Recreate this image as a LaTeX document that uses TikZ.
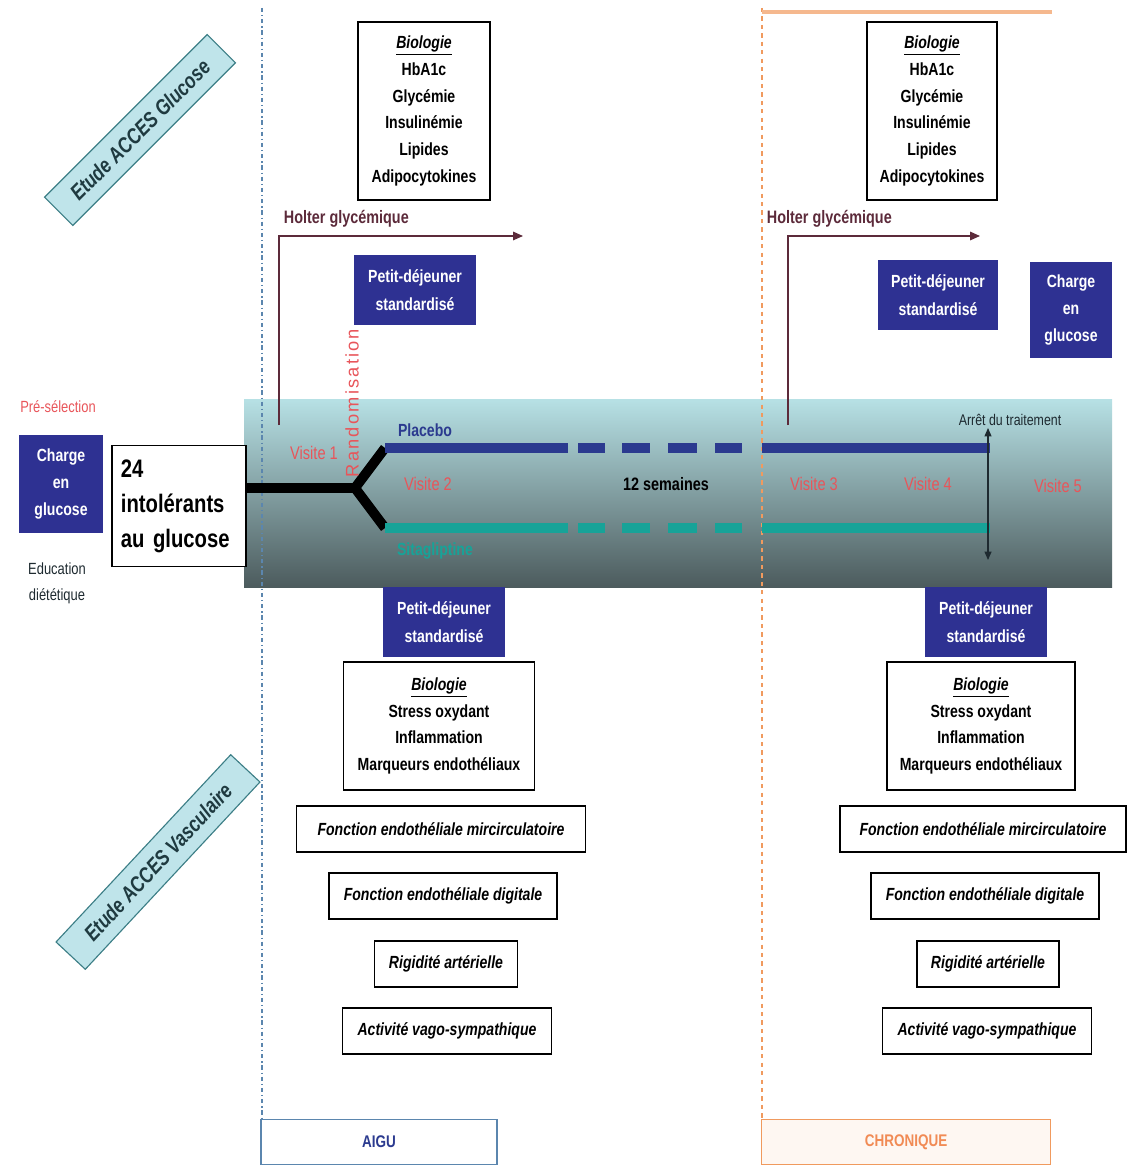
\documentclass[tikz,border=0pt]{standalone}
\usepackage{fontspec}
\setmainfont{Liberation Sans}[FakeStretch=0.8]
\newfontfamily\spacedFont{Liberation Sans}[LetterSpace=12]
\usetikzlibrary{arrows.meta,positioning}
\definecolor{AcBlue}{HTML}{2E3192}
\definecolor{AcPlacebo}{HTML}{2B3A8F}
\definecolor{AcTeal}{HTML}{17A398}
\definecolor{AcRed}{HTML}{E8555A}
\definecolor{AcOrange}{HTML}{F09A5E}
\definecolor{AcLine}{HTML}{5B86AE}
\definecolor{AcHolter}{HTML}{5C2A3A}
\definecolor{AcTagFill}{HTML}{BFE4EA}
\definecolor{AcTagLine}{HTML}{3C7E86}
\definecolor{AcTagText}{HTML}{1F3A40}
\definecolor{AcBandTop}{HTML}{B7E1E5}
\definecolor{AcBandMid}{HTML}{97B9BC}
\definecolor{AcBandBot}{HTML}{4C5B5D}
\definecolor{AcDark}{HTML}{1E2A30}

\begin{document}
\begin{tikzpicture}[x=0.025cm,y=-0.025cm,
  bioBox/.style={draw=black,line width=0.9pt,fill=white,align=center,inner sep=0pt,font=\bfseries\fontsize{12.5}{19}\selectfont},
  blueBox/.style={fill=AcBlue,text=white,align=center,inner sep=0pt,font=\bfseries\fontsize{12.5}{19.5}\selectfont},
  testBox/.style={draw=black,line width=0.9pt,fill=white,inner sep=0pt,minimum height=1.15cm,font=\bfseries\itshape\fontsize{12.5}{14}\selectfont},
  phaseBox/.style={line width=1pt,inner sep=0pt,minimum height=1.125cm,font=\bfseries\fontsize{12}{14}\selectfont},
  studyTag/.style={draw=AcTagLine,fill=AcTagFill,line width=0.8pt,rotate=45,minimum height=1cm,inner sep=0pt,text=AcTagText,font=\bfseries\itshape\fontsize{15.5}{17}\selectfont},
  visitLabel/.style={text=AcRed,font=\fontsize{13}{15}\selectfont},
  armLine/.style={line width=7pt},
  holterLine/.style={draw=AcHolter,line width=1pt,-{Triangle[length=7pt,width=6pt]}}]
\path[use as bounding box] (0,0) rectangle (1128,1168);

% bande de traitement
\shade[top color=AcBandTop,middle color=AcBandMid,bottom color=AcBandBot] (244,399) rectangle (1112,587);

% separations aigu / chronique
\draw[AcLine,line width=1pt,dash dot] (262,8) -- (262,1120);
\draw[AcOrange,line width=1pt,dashed] (762,8) -- (762,1120);
\draw[AcOrange!70,line width=2.5pt] (762,12) -- (1052,12);

% etiquettes d'etude
\node[studyTag,minimum width=5.75cm] (tagGlucose) at (140,130) {Etude ACCES Glucose};
\node[studyTag,minimum width=6.4cm,rotate=2] (tagVasc) at (158,862) {Etude ACCES Vasculaire};

% bilans glucose
\node[bioBox,minimum width=3.3cm,minimum height=4.45cm] (bioGluA) at (424,111) {\underline{\itshape Biologie}\\HbA1c\\Glycémie\\Insulinémie\\Lipides\\Adipocytokines};
\node[bioBox,minimum width=3.25cm,minimum height=4.45cm] (bioGluC) at (932,111) {\underline{\itshape Biologie}\\HbA1c\\Glycémie\\Insulinémie\\Lipides\\Adipocytokines};

% holter glycemique
\node[anchor=west,text=AcHolter,font=\bfseries\fontsize{12.8}{14}\selectfont] (holterA) at (279,219) {Holter glycémique};
\node[anchor=west,text=AcHolter,font=\bfseries\fontsize{12.8}{14}\selectfont] (holterC) at (762,219) {Holter glycémique};
\coordinate (holterAstart) at (279,425);
\coordinate (holterAend) at (523,236);
\coordinate (holterCstart) at (788,425);
\coordinate (holterCend) at (980,236);
\draw[holterLine] (holterAstart) |- (holterAend);
\draw[holterLine] (holterCstart) |- (holterCend);

% epreuves
\node[blueBox,minimum width=3.05cm,minimum height=1.75cm] (petitGluA) at (415,290) {Petit-déjeuner\\standardisé};
\node[blueBox,minimum width=3.0cm,minimum height=1.75cm] (petitGluC) at (938,295) {Petit-déjeuner\\standardisé};
\node[blueBox,minimum width=2.05cm,minimum height=2.4cm] (chargeC) at (1071,310) {Charge\\en\\glucose};

% pre-selection
\node[text=AcRed,font=\fontsize{11.5}{13}\selectfont] (preSel) at (58,407) {Pré-sélection};
\node[blueBox,minimum width=2.1cm,minimum height=2.425cm] (chargeSel) at (61,484) {Charge\\en\\glucose};
\node[align=center,text=AcDark,font=\fontsize{11.5}{18.5}\selectfont] (educ) at (57,583) {Education\\diététique};
\node[draw,line width=0.9pt,fill=white,minimum width=3.35cm,minimum height=3.025cm,align=left,text width=2.9cm,inner sep=0pt,font=\bfseries\fontsize{18}{25}\selectfont] (patients) at (179,506) {24\\intolérants\\au glucose};

% randomisation et bras
\coordinate (fork) at (355,488);
\coordinate (placeboStart) at (385,448);
\coordinate (activeStart) at (385,528);
\draw[armLine,black] (patients.east |- fork) -- (fork);
\draw[armLine,black] (placeboStart) -- (fork) -- (activeStart);
\foreach \xa/\xb in {385/568,578/605,622/650,668/697,715/742,762/990} {
  \draw[armLine,AcPlacebo] (\xa,448) -- (\xb,448);
  \draw[armLine,AcTeal] (\xa,528) -- (\xb,528);
}
\node[rotate=90,text=AcRed,font=\spacedFont\fontsize{13}{15}\selectfont] (rando) at (352,403) {Randomisation};
\node[text=AcPlacebo,font=\bfseries\fontsize{12.5}{14}\selectfont] (placebo) at (425,430) {Placebo};
\node[text=AcTeal,font=\bfseries\fontsize{12.5}{14}\selectfont] (active) at (435,551) {Sitagliptine};

% visites
\node[visitLabel] (visit1) at (314,453) {Visite 1};
\node[visitLabel] (visit2) at (428,484) {Visite 2};
\node[font=\bfseries\fontsize{12.8}{14}\selectfont] (duree) at (666,484) {12 semaines};
\node[visitLabel] (visit3) at (814,484) {Visite 3};
\node[visitLabel] (visit4) at (928,484) {Visite 4};
\node[visitLabel] (visit5) at (1058,486) {Visite 5};

% arret du traitement
\node[text=AcDark,font=\fontsize{11}{12}\selectfont] (stopLabel) at (1010,420) {Arrêt du traitement};
\coordinate (stopTop) at (988,428);
\coordinate (stopBot) at (988,560);
\draw[AcDark,line width=0.8pt,{Triangle[length=6pt,width=5pt]}-{Triangle[length=6pt,width=5pt]}] (stopTop) -- (stopBot);

% bilans vasculaires
\node[blueBox,minimum width=3.05cm,minimum height=1.75cm] (petitVascA) at (444,622) {Petit-déjeuner\\standardisé};
\node[blueBox,minimum width=3.05cm,minimum height=1.75cm] (petitVascC) at (986,622) {Petit-déjeuner\\standardisé};
\node[bioBox,minimum width=4.775cm,minimum height=3.2cm] (bioVascA) at (439,726) {\underline{\itshape Biologie}\\Stress oxydant\\Inflammation\\Marqueurs endothéliaux};
\node[bioBox,minimum width=4.7cm,minimum height=3.2cm] (bioVascC) at (981,726) {\underline{\itshape Biologie}\\Stress oxydant\\Inflammation\\Marqueurs endothéliaux};

\node[testBox,minimum width=7.225cm] (microA) at (441,829) {Fonction endothéliale mircirculatoire};
\node[testBox,minimum width=5.7cm] (digitA) at (443,896) {Fonction endothéliale digitale};
\node[testBox,minimum width=3.575cm] (rigidA) at (446,964) {Rigidité artérielle};
\node[testBox,minimum width=5.225cm] (vagoA) at (447,1031) {Activité vago-sympathique};
\node[testBox,minimum width=7.15cm] (microC) at (983,829) {Fonction endothéliale mircirculatoire};
\node[testBox,minimum width=5.7cm] (digitC) at (985,896) {Fonction endothéliale digitale};
\node[testBox,minimum width=3.55cm] (rigidC) at (988,964) {Rigidité artérielle};
\node[testBox,minimum width=5.225cm] (vagoC) at (987,1031) {Activité vago-sympathique};

% phases
\node[phaseBox,draw=AcLine,fill=white,text=AcPlacebo,minimum width=5.9cm] (aigu) at (379,1142) {AIGU};
\node[phaseBox,draw=AcOrange,fill=AcOrange!8,text=AcOrange!90!red,minimum width=7.225cm] (chronique) at (906,1142) {CHRONIQUE};
\end{tikzpicture}
\end{document}
